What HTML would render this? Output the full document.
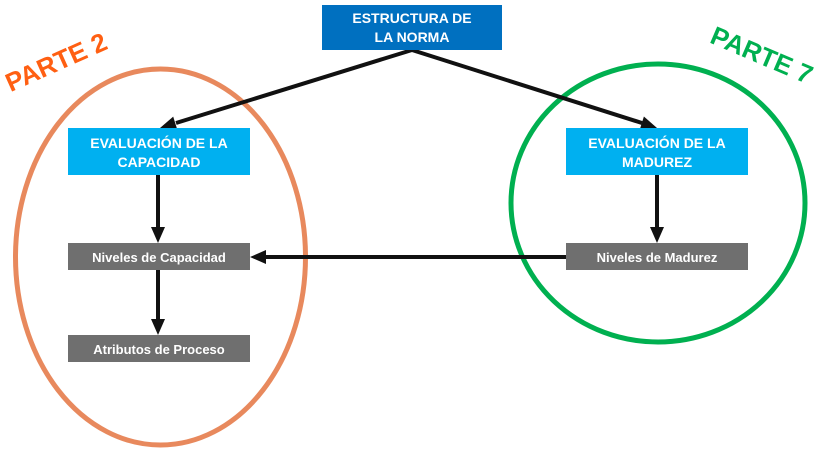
<!DOCTYPE html>
<html><head><meta charset="utf-8"><style>
html,body{margin:0;padding:0;background:#fff;}
svg{display:block;font-family:"Liberation Sans",Arial,sans-serif;}
</style></head><body>
<svg width="822" height="455" viewBox="0 0 822 455" xmlns="http://www.w3.org/2000/svg">
<ellipse cx="160.5" cy="257" rx="145" ry="188" fill="none" stroke="#e8895d" stroke-width="5"/>
<ellipse cx="658" cy="203" rx="147" ry="139" fill="none" stroke="#00b050" stroke-width="5"/>
<text x="0" y="0" transform="translate(57,64) rotate(-24)" text-anchor="middle" dominant-baseline="middle" font-size="26" font-weight="bold" fill="#ff5f12">PARTE 2</text>
<text x="0" y="0" transform="translate(761,57) rotate(23)" text-anchor="middle" dominant-baseline="middle" font-size="26" font-weight="bold" fill="#00b050">PARTE 7</text>
<g stroke="#111" stroke-width="4" fill="none">
<line x1="412" y1="50" x2="176" y2="123"/>
<line x1="412" y1="50" x2="642" y2="123"/>
<line x1="158" y1="175" x2="158" y2="229"/>
<line x1="158" y1="270" x2="158" y2="321"/>
<line x1="657" y1="175" x2="657" y2="229"/>
<line x1="566" y1="257" x2="264" y2="257"/>
</g>
<g fill="#111">
<polygon points="160,128 177.4,130 173.2,116.6"/>
<polygon points="657,128 639.7,129.8 643.9,116.5"/>
<polygon points="158,243 151,227 165,227"/>
<polygon points="158,335 151,319 165,319"/>
<polygon points="657,243 650,227 664,227"/>
<polygon points="250,257 266,250 266,264"/>
</g>
<rect x="322" y="5" width="180" height="45" fill="#0070c0"/>
<text x="412" y="23" text-anchor="middle" font-size="14" font-weight="bold" fill="#fff">ESTRUCTURA DE</text>
<text x="412" y="42" text-anchor="middle" font-size="14" font-weight="bold" fill="#fff">LA NORMA</text>
<rect x="68" y="128" width="182" height="47" fill="#00b0f0"/>
<text x="159" y="148" text-anchor="middle" font-size="14" font-weight="bold" fill="#fff">EVALUACIÓN DE LA</text>
<text x="159" y="167" text-anchor="middle" font-size="14" font-weight="bold" fill="#fff">CAPACIDAD</text>
<rect x="566" y="128" width="182" height="47" fill="#00b0f0"/>
<text x="657" y="148" text-anchor="middle" font-size="14" font-weight="bold" fill="#fff">EVALUACIÓN DE LA</text>
<text x="657" y="167" text-anchor="middle" font-size="14" font-weight="bold" fill="#fff">MADUREZ</text>
<rect x="68" y="243" width="182" height="27" fill="#6f6f6f"/>
<text x="159" y="262" text-anchor="middle" font-size="13" font-weight="bold" fill="#fff">Niveles de Capacidad</text>
<rect x="68" y="335" width="182" height="27" fill="#6f6f6f"/>
<text x="159" y="354" text-anchor="middle" font-size="13" font-weight="bold" fill="#fff">Atributos de Proceso</text>
<rect x="566" y="243" width="182" height="27" fill="#6f6f6f"/>
<text x="657" y="262" text-anchor="middle" font-size="13" font-weight="bold" fill="#fff">Niveles de Madurez</text>
</svg>
</body></html>
